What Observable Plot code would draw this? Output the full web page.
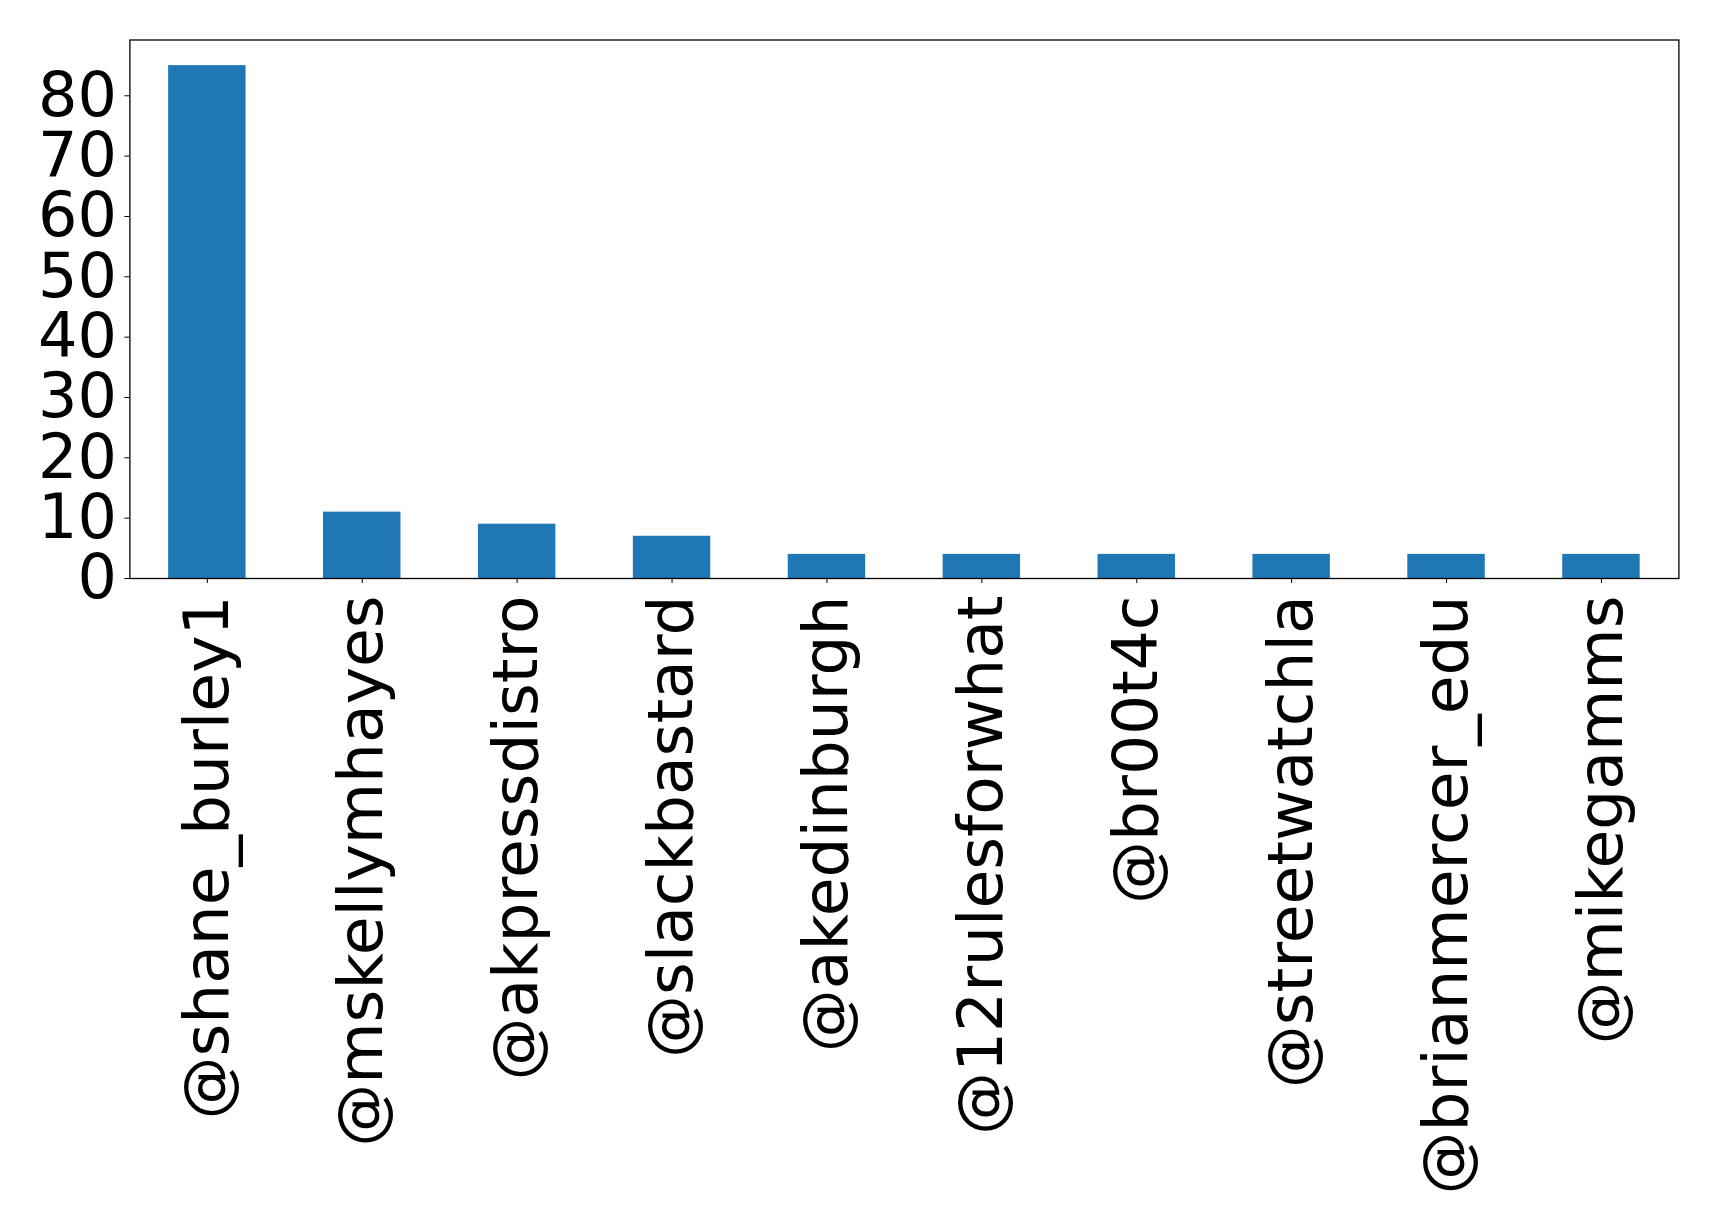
<!DOCTYPE html>
<html>
<head>
<meta charset="utf-8">
<script src="https://cdn.jsdelivr.net/npm/d3@7"></script>
<script src="https://cdn.jsdelivr.net/npm/@observablehq/plot@0.6"></script>
<style>
  html, body { margin: 0; padding: 0; background: #fff; }
  #chart svg { display: block; }
</style>
</head>
<body>
<div id="chart"></div>
<script>
// Most frequently mentioned accounts and their counts
const handles = [
  "@shane_burley1", "@mskellymhayes", "@akpressdistro", "@slackbastard",
  "@akedinburgh", "@12rulesforwhat", "@br00t4c", "@streetwatchla",
  "@brianmercer_edu", "@mikegamms"
];
const counts = [85, 11, 9, 7, 4, 4, 4, 4, 4, 4];
const yTicks = [0, 10, 20, 30, 40, 50, 60, 70, 80];

const data = handles.map((handle, i) => ({handle, count: counts[i]}));
const yMax = d3.max(counts) * 1.05;

const chart = Plot.plot({
  width: 1719,
  height: 1222,
  marginLeft: 129.4,
  marginRight: 40.6,
  marginTop: 39.5,
  marginBottom: 644,
  style: {fontFamily: "DejaVu Sans", background: "#fff", color: "#000"},
  x: {domain: handles, paddingInner: 0.5, paddingOuter: 0.25, round: false, label: null},
  y: {domain: [0, yMax], label: null},
  marks: [
    Plot.barY(data, {x: "handle", y: "count", fill: "#1f77b4"}),
    Plot.frame({stroke: "#000", strokeWidth: 1.3}),
    Plot.axisY({ticks: yTicks, tickSize: 5, tickPadding: 8, fontSize: 62, label: null, stroke: "#000"}),
    Plot.axisX({tickSize: 5, tickPadding: 12, tickRotate: -90, fontSize: 63, label: null, stroke: "#000"})
  ]
});
document.getElementById("chart").appendChild(chart);
</script>
</body>
</html>
